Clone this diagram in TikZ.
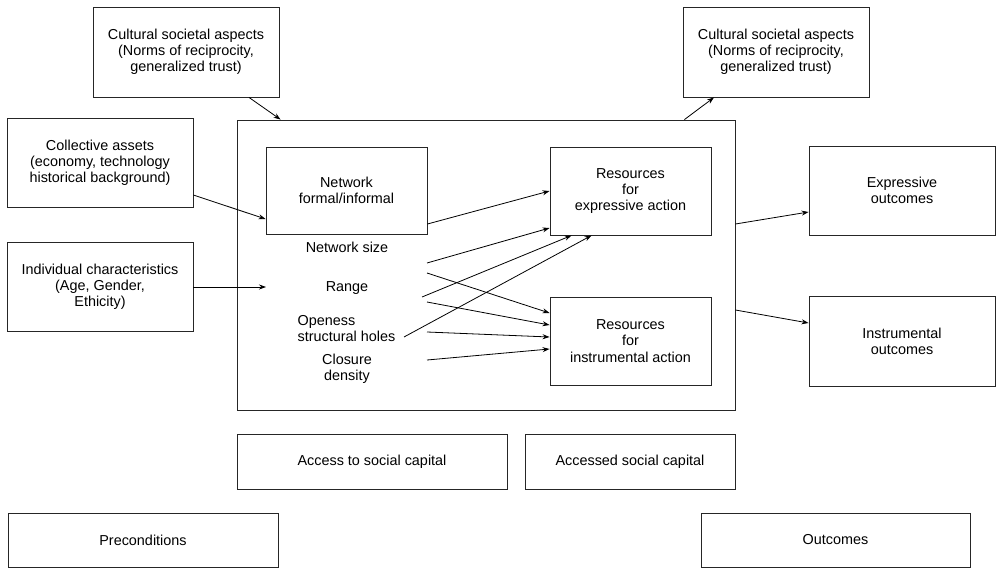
\documentclass[tikz,border=0pt]{standalone}
\usepackage{fontspec}
\setmainfont{Liberation Sans}
\usetikzlibrary{arrows.meta,calc}
\tikzset{
  box/.style={draw=black!85, line width=0.9pt, rectangle, inner sep=0pt, align=center, font=\fontsize{14.4}{16.2}\selectfont},
  lbl/.style={inner sep=0pt, align=center, font=\fontsize{14.4}{16.2}\selectfont},
  arr/.style={draw=black, line width=0.8pt, -{Stealth[length=7pt,width=5pt]}}
}
\begin{document}
\begin{tikzpicture}[x=1pt,y=-1pt]
\useasboundingbox (0,0) rectangle (996,568);
% outer boxes
\node[box, minimum width=186pt, minimum height=90pt] (cultL) at (186,52) {Cultural societal aspects\\(Norms of reciprocity,\\generalized trust)};
\node[box, minimum width=186pt, minimum height=90pt] (cultR) at (776,52) {Cultural societal aspects\\(Norms of reciprocity,\\generalized trust)};
\node[box, minimum width=186pt, minimum height=89pt] (coll) at (100,162.5) {Collective assets\\(economy, technology\\historical background)};
\node[box, minimum width=186pt, minimum height=89pt] (indiv) at (100,286.5) {Individual characteristics\\(Age, Gender,\\Ethicity)};
\node[box, minimum width=498pt, minimum height=290pt] (big) at (486,265) {};
\node[box, minimum width=161pt, minimum height=87pt] (net) at (346.5,190.5) {Network\\formal/informal};
\node[box, minimum width=161pt, minimum height=88pt] (resE) at (630.5,191) {Resources\\for\\expressive action};
\node[box, minimum width=161pt, minimum height=88pt] (resI) at (630.5,341) {Resources\\for\\instrumental action};
\node[box, minimum width=186pt, minimum height=89pt] (expO) at (902,190.5) {Expressive\\outcomes};
\node[box, minimum width=186pt, minimum height=90pt] (instO) at (902,341) {Instrumental\\outcomes};
\node[box, minimum width=270pt, minimum height=55pt] (access) at (372,461.5) {Access to social capital};
\node[box, minimum width=210pt, minimum height=55pt] (accessed) at (630,461.5) {Accessed social capital};
\node[box, minimum width=270pt, minimum height=54pt] (precond) at (143,540) {Preconditions};
\node[box, minimum width=269pt, minimum height=54pt] (outc) at (835.5,540) {Outcomes};
% labels inside
\node[lbl] (nsize) at (347,247) {Network size};
\node[lbl] (range) at (347,288) {Range};
\node[lbl, align=left] (open) at (346.5,328.5) {Openess\\structural holes};
\node[lbl] (closure) at (347,369) {Closure\\density};
% free ends
\coordinate (rangeIn) at (266,287);
\coordinate (s2) at (427,263);
\coordinate (s3) at (427,273);
\coordinate (s4) at (422,297);
\coordinate (s5) at (427,302);
\coordinate (s6) at (404,337);
\coordinate (s7) at (427,332);
\coordinate (s8) at (427,360);
% outer connectors
\draw[arr] ($(cultL.south)+(63,0)$) -- ($(big.north west)+(44,0)$);
\draw[arr] ($(coll.east)+(0,32.5)$) -- ($(net.west)+(0,28.5)$);
\draw[arr] (indiv.east |- rangeIn) -- (rangeIn);
\draw[arr] ($(big.north east)+(-51,0)$) -- ($(cultR.south)+(-62,0)$);
\draw[arr] ($(big.east)+(0,-41)$) -- ($(expO.west)+(0,21.5)$);
\draw[arr] ($(big.east)+(0,45)$) -- ($(instO.west)+(0,-18)$);
% inner connectors
\draw[arr] ($(net.east)+(0,33.5)$) -- (resE.west);
\draw[arr] (s2) -- ($(resE.west)+(0,37)$);
\draw[arr] (s3) -- ($(resI.west)+(0,-28)$);
\draw[arr] (s4) -- ($(resE.south west)+(22,0)$);
\draw[arr] (s5) -- ($(resI.west)+(0,-16)$);
\draw[arr] (s6) -- ($(resE.south west)+(42,0)$);
\draw[arr] (s7) -- ($(resI.west)+(0,-4)$);
\draw[arr] (s8) -- ($(resI.west)+(0,8)$);
\end{tikzpicture}
\end{document}
